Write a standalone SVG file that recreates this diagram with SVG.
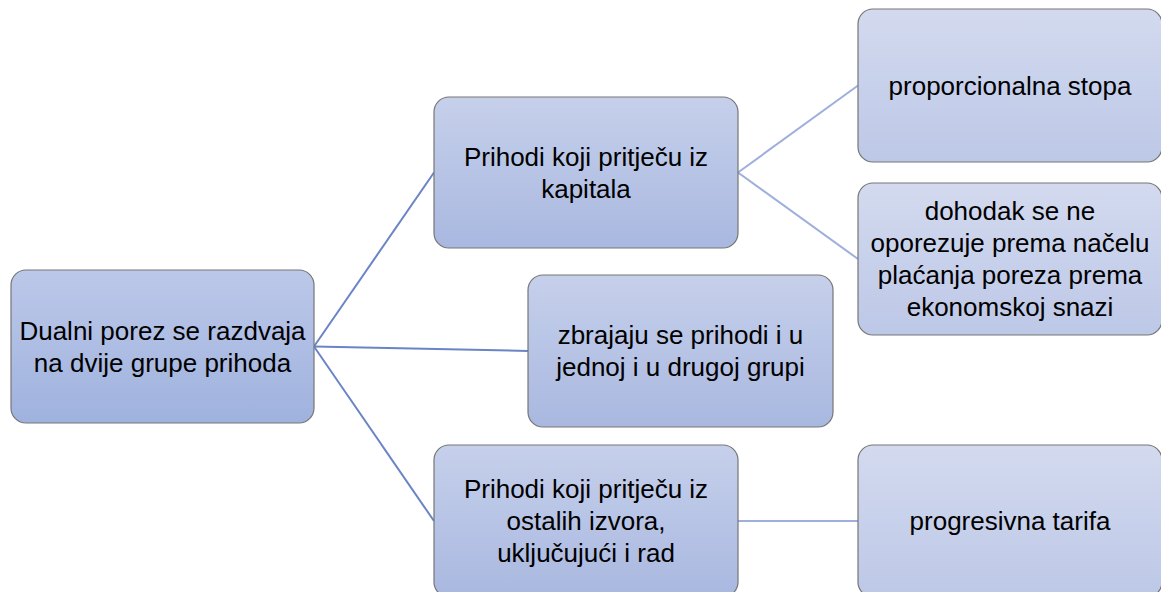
<svg xmlns="http://www.w3.org/2000/svg" width="1161" height="592" viewBox="0 0 1161 592">
<defs>
<linearGradient id="g0" x1="0" y1="0" x2="0" y2="1"><stop offset="0" stop-color="#bcc8e9"/><stop offset="1" stop-color="#9fb2de"/></linearGradient>
<linearGradient id="g1" x1="0" y1="0" x2="0" y2="1"><stop offset="0" stop-color="#c6d0eb"/><stop offset="1" stop-color="#a9b8e0"/></linearGradient>
<linearGradient id="g2" x1="0" y1="0" x2="0" y2="1"><stop offset="0" stop-color="#d3daef"/><stop offset="1" stop-color="#bdc8e7"/></linearGradient>
<style>
.box{stroke:#767676;stroke-width:1.2}
.t{font-family:"Liberation Sans",Arial,sans-serif;font-size:26px;fill:#000;text-anchor:middle}
.c1{stroke:#6a84c6;stroke-width:2;fill:none}
.c2{stroke:#9eafdb;stroke-width:2;fill:none}
</style>
</defs>
<rect width="1161" height="592" fill="#fff"/>
<g id="connectors">
<line class="c1" x1="314" y1="346.5" x2="434" y2="172.5"/>
<line class="c1" x1="314" y1="346.5" x2="528" y2="351"/>
<line class="c1" x1="314" y1="346.5" x2="434" y2="521"/>
<line class="c2" x1="738" y1="172.5" x2="858" y2="85.5"/>
<line class="c2" x1="738" y1="172.5" x2="858" y2="259"/>
<line class="c2" x1="738" y1="521" x2="858" y2="521"/>
</g>
<g id="root">
<rect class="box" x="11" y="270" width="303" height="153" rx="15" fill="url(#g0)"/>
<text class="t" x="162.5" y="339.5">Dualni porez se razdvaja</text>
<text class="t" x="162.5" y="371.5">na dvije grupe prihoda</text>
</g>
<g id="kapital">
<rect class="box" x="434" y="97" width="304" height="151" rx="15" fill="url(#g1)"/>
<text class="t" x="586" y="165.5">Prihodi koji pritječu iz</text>
<text class="t" x="586" y="197.5">kapitala</text>
</g>
<g id="zbrajaju">
<rect class="box" x="528" y="275" width="305" height="152" rx="15" fill="url(#g1)"/>
<text class="t" x="680.5" y="344">zbrajaju se prihodi i u</text>
<text class="t" x="680.5" y="376">jednoj i u drugoj grupi</text>
</g>
<g id="ostali">
<rect class="box" x="434" y="445" width="304" height="152" rx="15" fill="url(#g1)"/>
<text class="t" x="586" y="498">Prihodi koji pritječu iz</text>
<text class="t" x="586" y="530">ostalih izvora,</text>
<text class="t" x="586" y="562">uključujući i rad</text>
</g>
<g id="proporcionalna">
<rect class="box" x="858" y="9" width="304" height="153" rx="15" fill="url(#g2)"/>
<text class="t" x="1010" y="94.5">proporcionalna stopa</text>
</g>
<g id="dohodak">
<rect class="box" x="858" y="183" width="304" height="152" rx="15" fill="url(#g2)"/>
<text class="t" x="1010" y="220">dohodak se ne</text>
<text class="t" x="1010" y="252">oporezuje prema načelu</text>
<text class="t" x="1010" y="284">plaćanja poreza prema</text>
<text class="t" x="1010" y="316">ekonomskoj snazi</text>
</g>
<g id="progresivna">
<rect class="box" x="858" y="445" width="304" height="152" rx="15" fill="url(#g2)"/>
<text class="t" x="1010" y="530">progresivna tarifa</text>
</g>
</svg>
